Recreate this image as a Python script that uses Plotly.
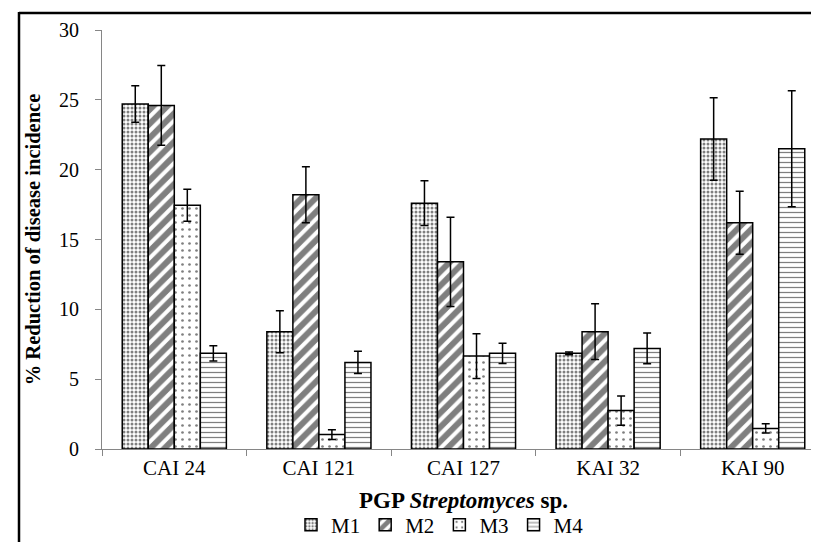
import plotly.graph_objects as go

categories = ["CAI 24", "CAI 121", "CAI 127", "KAI 32", "KAI 90"]
series_names = ["M1", "M2", "M3", "M4"]
m1 = [24.7, 8.4, 17.6, 6.85, 22.2]
m2 = [24.6, 18.2, 13.4, 8.4, 16.2]
m3 = [17.45, 1.03, 6.65, 2.75, 1.47]
m4 = [6.85, 6.2, 6.85, 7.2, 21.5]
m1_err = [1.3, 1.5, 1.6, 0.1, 2.95]
m2_err = [2.85, 2.0, 3.2, 2.0, 2.25]
m3_err = [1.15, 0.35, 1.6, 1.05, 0.33]
m4_err = [0.55, 0.8, 0.73, 1.1, 4.15]
y_ticks = [0, 5, 10, 15, 20, 25, 30]

values = [m1, m2, m3, m4]
errors = [m1_err, m2_err, m3_err, m4_err]
patterns = [
    dict(shape=".", size=4, solidity=0.45, fgcolor="black", bgcolor="white"),
    dict(shape="/", size=10, solidity=0.6, fgcolor="black", bgcolor="white"),
    dict(shape=".", size=7, solidity=0.12, fgcolor="black", bgcolor="white"),
    dict(shape="-", size=5, solidity=0.25, fgcolor="black", bgcolor="white"),
]

FONT = "Liberation Serif"

fig = go.Figure()
for name, vals, errs, pat in zip(series_names, values, errors, patterns):
    fig.add_trace(go.Bar(
        name=name, x=categories, y=vals,
        marker=dict(color="white", line=dict(color="black", width=1.5), pattern=pat),
        error_y=dict(type="data", array=errs, visible=True, color="black", thickness=1.5, width=4),
    ))

W, H = 819, 542
ml, mr, mt, mb = 94, 2, 22, 101
pw, ph = W - ml - mr, H - mt - mb

def px_x(x):
    return (x - ml) / pw

def px_y(y):
    return (H - mb - y) / ph

fig.update_layout(
    width=W, height=H,
    margin=dict(l=ml, r=mr, t=mt, b=mb, autoexpand=False),
    paper_bgcolor="white", plot_bgcolor="white",
    barmode="group", bargap=0.28, bargroupgap=0,
    font=dict(family=FONT, color="black", size=19),
    showlegend=True,
    legend=dict(orientation="h", x=px_x(432), xanchor="center", y=px_y(517), yanchor="middle",
                font=dict(family=FONT, size=21), itemwidth=30, traceorder="normal",
                bgcolor="rgba(0,0,0,0)"),
    xaxis=dict(
        showline=True, linecolor="#868686", linewidth=1, ticks="outside", tickcolor="#868686",
        ticklen=6, tickson="boundaries", showgrid=False, tickfont=dict(family=FONT, size=21),
        title=dict(text="<b>PGP <i>Streptomyces</i> sp.</b>", font=dict(family=FONT, size=23), standoff=12),
    ),
    yaxis=dict(
        range=[0, 30], tickvals=y_ticks, showline=True, linecolor="#868686", linewidth=1,
        ticks="outside", tickcolor="#868686", ticklen=6, showgrid=False, zeroline=False,
        tickfont=dict(family=FONT, size=20), ticklabelstandoff=12,
        title=dict(text="<b>% Reduction of disease incidence</b>", font=dict(family=FONT, size=20.5), standoff=12),
    ),
    shapes=[
        dict(type="line", xref="paper", yref="paper", x0=px_x(11), x1=px_x(819),
             y0=px_y(5), y1=px_y(5), line=dict(color="black", width=2.5)),
        dict(type="line", xref="paper", yref="paper", x0=px_x(11), x1=px_x(11),
             y0=px_y(4), y1=px_y(545), line=dict(color="black", width=2.5)),
    ],
)

fig.write_html("out.html", config={"displayModeBar": False})
